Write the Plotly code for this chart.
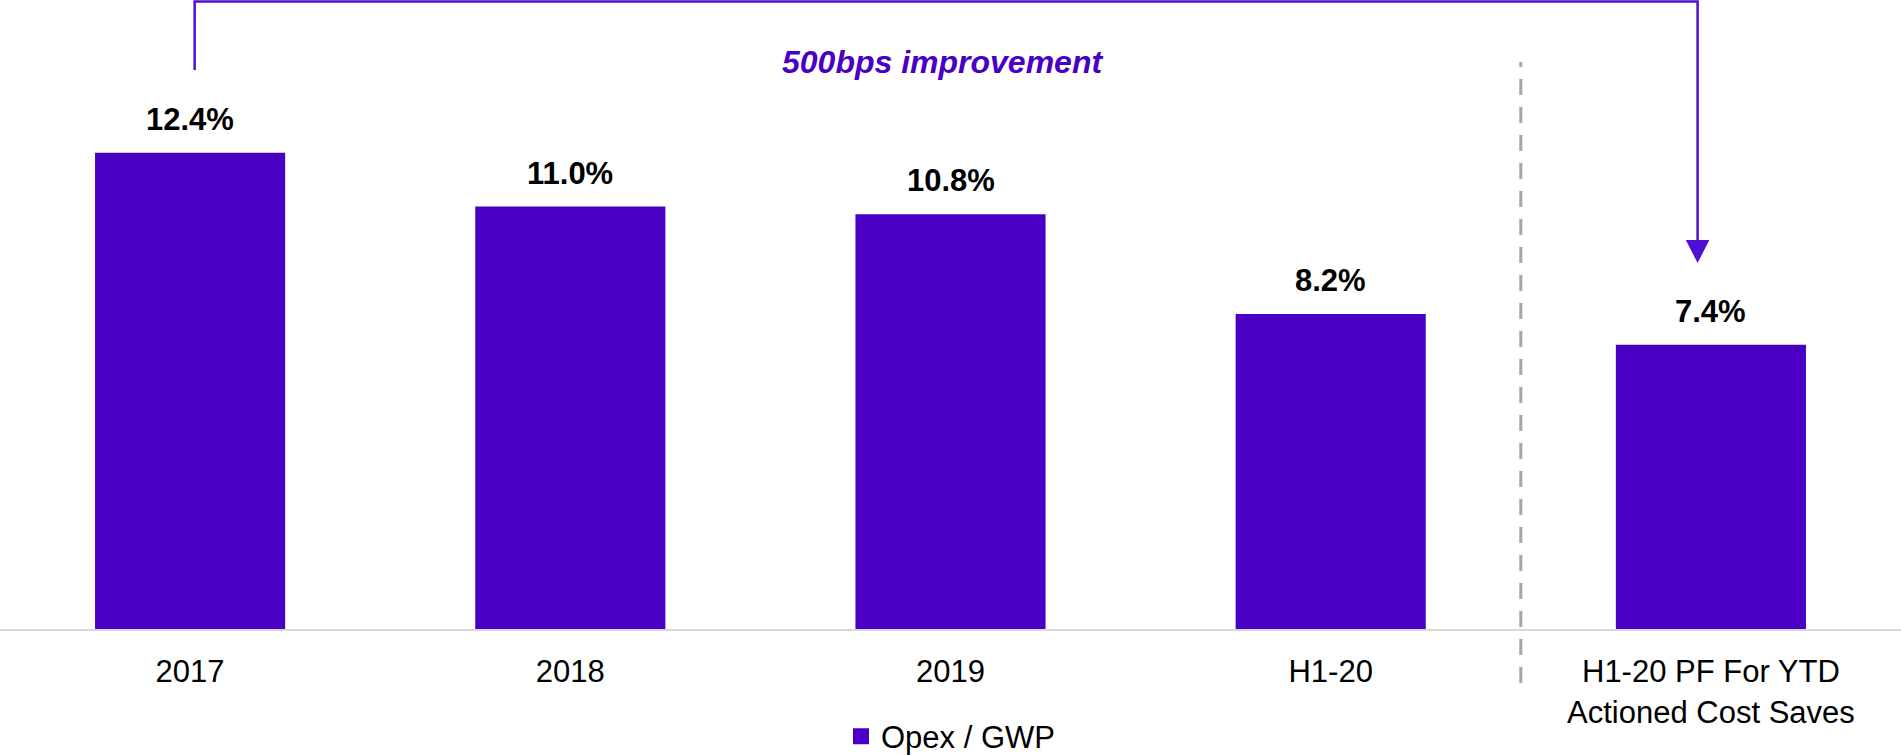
import plotly.graph_objects as go

categories = ["2017", "2018", "2019", "H1-20", "H1-20 PF For YTD<br>Actioned Cost Saves"]
opex_gwp = [12.4, 11.0, 10.8, 8.2, 7.4]
value_labels = ["12.4%", "11.0%", "10.8%", "8.2%", "7.4%"]
series_name = "Opex / GWP"
callout_text = "500bps improvement"

BAR_COLOR = "#4A00C4"
ARROW_COLOR = "#4F0FD2"
FONT = "Arial, Liberation Sans, sans-serif"
FS = 31

x_pos = list(range(len(categories)))

fig = go.Figure()
fig.add_trace(go.Bar(
    x=x_pos, y=opex_gwp, name=series_name, width=0.5,
    marker=dict(color=BAR_COLOR, line=dict(width=0)),
    showlegend=False,
))
# legend-only entry with a larger square swatch
fig.add_trace(go.Scatter(
    x=[None], y=[None], name=series_name, mode="markers",
    marker=dict(symbol="square", size=18, color=BAR_COLOR),
    showlegend=True, hoverinfo="skip",
))

annotations = []
for xi, v, lab in zip(x_pos, opex_gwp, value_labels):
    annotations.append(dict(
        x=xi, y=v, xref="x", yref="y", text="<b>" + lab + "</b>",
        showarrow=False, yanchor="bottom", yshift=14,
        font=dict(family=FONT, size=FS, color="#000000"),
    ))
annotations.append(dict(
    x=0.496, y=0.902, xref="paper", yref="paper",
    text="<b><i>" + callout_text + "</i></b>", showarrow=False,
    xanchor="center", yanchor="middle",
    font=dict(family=FONT, size=32, color=BAR_COLOR),
))

xl, xr = 0.012, 3.965
y_top, y_left_end, y_head_base, y_tip = 0.9976, 0.8887, 0.6184, 0.5819
hw = 0.031
shapes = [
    dict(type="path", xref="x", yref="paper",
         path=f"M {xl},{y_left_end} L {xl},{y_top} L {xr},{y_top} L {xr},{y_head_base}",
         line=dict(color=ARROW_COLOR, width=2.5)),
    dict(type="path", xref="x", yref="paper",
         path=f"M {xr-hw},{y_head_base} L {xr+hw},{y_head_base} L {xr},{y_tip} Z",
         line=dict(color=ARROW_COLOR, width=0), fillcolor=ARROW_COLOR),
    dict(type="line", xref="x", yref="paper", x0=3.5, x1=3.5, y0=-0.0859, y1=0.9014,
         line=dict(color="#A6A6A6", width=3, dash="16px,12px")),
]

fig.update_layout(
    width=1901, height=755,
    margin=dict(l=0, r=0, t=0, b=126, autoexpand=False),
    paper_bgcolor="white", plot_bgcolor="white",
    font=dict(family=FONT, size=FS, color="#000000"),
    xaxis=dict(
        range=[-0.5, 4.5], tickvals=x_pos, ticktext=categories,
        showgrid=False, zeroline=False, showline=True,
        linecolor="#D9D9D9", linewidth=2, ticks="",
        tickfont=dict(family=FONT, size=FS, color="#000000"),
        ticklabelstandoff=14, fixedrange=True,
    ),
    yaxis=dict(range=[0, 16.38], visible=False, fixedrange=True),
    legend=dict(orientation="h", x=0.5, xanchor="center", y=-0.171, yanchor="middle",
                font=dict(family=FONT, size=FS, color="#000000"),
                bgcolor="rgba(0,0,0,0)", itemwidth=30),
    annotations=annotations,
    shapes=shapes,
    showlegend=True,
)

fig.write_html(
    "out.html",
    config={"displayModeBar": False},
    post_script="document.body.style.margin='0px';document.body.style.padding='0px';document.body.style.overflow='hidden';",
)
